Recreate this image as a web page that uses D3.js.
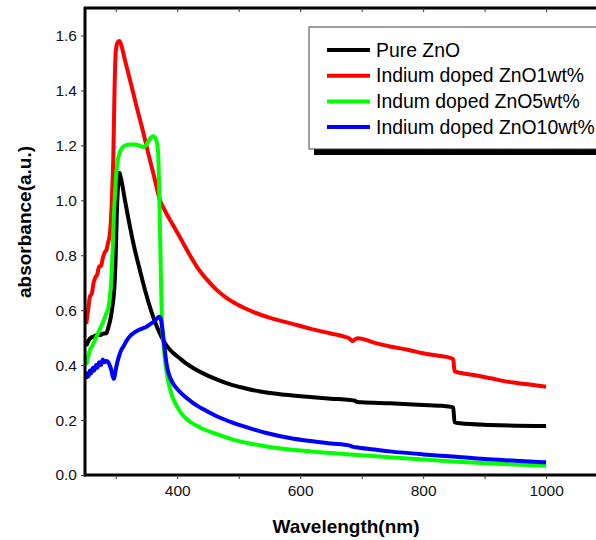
<!DOCTYPE html>
<html>
<head>
  <meta charset="utf-8">
  <title>Absorbance spectra</title>
  <style>
    body {
      margin: 0;
      background: #fff;
      font-family: Arial, "Liberation Sans", sans-serif;
    }
  </style>
  <script src="https://d3js.org/d3.v7.min.js"></script>
</head>
<body>
  <svg id="chart" width="596" height="540"></svg>

  <script>
    // [wavelength nm, absorbance]
    var pureZnO = [
      [252, 0.47], [256, 0.49], [260, 0.50], [265, 0.505], [270, 0.51], [275, 0.51],
      [280, 0.515], [285, 0.516], [287, 0.53], [289, 0.545], [292, 0.575], [295, 0.62],
      [298, 0.69], [300, 0.80], [302, 0.97], [304, 1.06], [306, 1.10], [308, 1.085],
      [315, 1.00], [323, 0.905], [331, 0.82], [339, 0.748], [348, 0.67], [358, 0.595],
      [366, 0.545], [374, 0.505], [383, 0.47], [393, 0.445], [404, 0.425], [415, 0.405],
      [428, 0.387], [442, 0.37], [462, 0.35], [486, 0.33], [510, 0.316], [535, 0.304],
      [575, 0.292], [616, 0.284], [650, 0.278], [681, 0.273], [688, 0.271], [693, 0.266],
      [700, 0.265], [746, 0.261], [800, 0.255], [830, 0.252], [846, 0.248], [849, 0.245],
      [851, 0.192], [860, 0.188], [909, 0.182], [1000, 0.178]
    ];

    var doped1 = [
      [252, 0.55], [255, 0.60], [258, 0.65], [261, 0.66], [264, 0.70], [267, 0.72],
      [270, 0.73], [273, 0.76], [276, 0.76], [279, 0.79], [282, 0.81], [285, 0.82],
      [288, 0.85], [290, 0.87], [292, 0.92], [294, 1.02], [296, 1.15], [298, 1.40],
      [300, 1.54], [303, 1.575], [306, 1.58], [309, 1.565], [315, 1.51], [323, 1.44],
      [334, 1.34], [345, 1.245], [353, 1.17], [362, 1.09], [372, 1.00], [380, 0.962],
      [390, 0.922], [404, 0.867], [418, 0.81], [432, 0.758], [448, 0.712], [465, 0.672],
      [480, 0.645], [497, 0.622], [520, 0.597], [551, 0.572], [583, 0.553], [616, 0.533],
      [650, 0.515], [673, 0.503], [680, 0.497], [685, 0.488], [690, 0.495], [694, 0.498],
      [720, 0.482], [746, 0.468], [775, 0.456], [800, 0.443], [825, 0.434], [846, 0.425],
      [849, 0.42], [851, 0.378], [860, 0.372], [882, 0.364], [910, 0.352], [936, 0.340],
      [970, 0.330], [1000, 0.321]
    ];

    var doped5 = [
      [252, 0.40], [255, 0.43], [258, 0.455], [262, 0.47], [266, 0.49], [270, 0.51],
      [275, 0.535], [280, 0.56], [285, 0.59], [288, 0.61], [291, 0.66], [293, 0.72],
      [295, 0.82], [297, 0.95], [299, 1.03], [301, 1.10], [303, 1.14], [306, 1.17],
      [310, 1.19], [316, 1.20], [323, 1.203], [330, 1.203], [338, 1.20], [343, 1.195],
      [347, 1.195], [352, 1.21], [357, 1.228], [361, 1.233], [364, 1.228], [367, 1.21],
      [369, 1.17], [371, 1.00], [373, 0.78], [375, 0.57], [378, 0.47], [380, 0.42],
      [383, 0.37], [386, 0.335], [390, 0.30], [394, 0.275], [400, 0.248], [410, 0.215],
      [422, 0.192], [437, 0.173], [460, 0.152], [491, 0.129], [520, 0.114], [545, 0.104],
      [583, 0.093], [616, 0.086], [650, 0.08], [692, 0.073], [750, 0.064], [800, 0.056],
      [855, 0.048], [920, 0.041], [1000, 0.034]
    ];

    var doped10 = [
      [252, 0.35], [254, 0.37], [256, 0.36], [258, 0.38], [260, 0.37], [263, 0.39],
      [265, 0.38], [268, 0.40], [270, 0.39], [273, 0.41], [276, 0.40], [279, 0.42],
      [282, 0.41], [285, 0.415], [288, 0.41], [291, 0.395], [293, 0.38], [295, 0.36],
      [297, 0.35], [299, 0.37], [301, 0.395], [305, 0.43], [309, 0.455], [313, 0.47],
      [318, 0.49], [323, 0.505], [328, 0.515], [335, 0.525], [342, 0.532], [350, 0.54],
      [357, 0.55], [364, 0.563], [368, 0.572], [371, 0.576], [373, 0.57], [375, 0.545],
      [377, 0.51], [380, 0.45], [383, 0.40], [386, 0.37], [390, 0.347], [394, 0.33],
      [400, 0.313], [410, 0.29], [426, 0.262], [442, 0.24], [465, 0.213], [491, 0.19],
      [520, 0.169], [545, 0.153], [583, 0.135], [616, 0.124], [650, 0.115], [681, 0.107],
      [685, 0.103], [690, 0.101], [720, 0.093], [746, 0.086], [800, 0.075], [849, 0.067],
      [900, 0.058], [950, 0.052], [1000, 0.046]
    ];

    var seriesNames = ["Pure ZnO", "Indium doped ZnO1wt%", "Indum doped ZnO5wt%", "Indium doped ZnO10wt%"];
    var seriesColors = ["#000000", "#ff0000", "#00ff00", "#0000ff"];
    var seriesData = [pureZnO, doped1, doped5, doped10];

    var xTicks = [300, 400, 500, 600, 700, 800, 900, 1000];
    var xTickLabels = [400, 600, 800, 1000];
    var yTicks = [0, 0.2, 0.4, 0.6, 0.8, 1.0, 1.2, 1.4, 1.6];

    var svg = d3.select("#chart");

    var x = d3.scaleLinear()
        .domain([250, 1100])
        .range([85, 607.6]);

    var y = d3.scaleLinear()
        .domain([0, 1.7])
        .range([475, 8]);

    var line = d3.line()
        .x(d => x(d[0]))
        .y(d => y(d[1]))
        .curve(d3.curveMonotoneX);

    // curves
    svg.append("g")
        .selectAll("path")
        .data(seriesData)
        .join("path")
        .attr("d", line)
        .attr("fill", "none")
        .attr("stroke", (d, i) => seriesColors[i])
        .attr("stroke-width", 4)
        .attr("stroke-linejoin", "round");

    // bottom axis
    var xAxis = svg.append("g")
        .attr("transform", "translate(0,475)")
        .call(d3.axisBottom(x)
            .tickValues(xTicks)
            .tickSize(4)
            .tickFormat(d => xTickLabels.indexOf(d) >= 0 ? d : ""));
    xAxis.select(".domain").attr("stroke-width", 3).attr("d", "M84,0H596");
    xAxis.selectAll(".tick line").attr("stroke", "#333").attr("stroke-width", 1);
    xAxis.selectAll(".tick text")
        .attr("y", 10)
        .attr("font-family", "Arial, 'Liberation Sans', sans-serif")
        .attr("font-size", 15.5)
        .attr("fill", "#111");

    // top axis
    var topAxis = svg.append("g")
        .attr("transform", "translate(0,8)")
        .call(d3.axisBottom(x).tickValues(xTicks).tickSize(4).tickFormat(""));
    topAxis.select(".domain").attr("stroke-width", 3).attr("d", "M84,0H596");
    topAxis.selectAll(".tick line").attr("stroke", "#333").attr("stroke-width", 1);

    // left axis
    var yAxis = svg.append("g")
        .attr("transform", "translate(85,0)")
        .call(d3.axisLeft(y)
            .tickValues(yTicks)
            .tickSize(4)
            .tickFormat(d3.format(".1f")));
    yAxis.select(".domain").attr("stroke-width", 3).attr("d", "M0,7H0V476.5");
    yAxis.selectAll(".tick line").attr("stroke", "#333").attr("stroke-width", 1);
    yAxis.selectAll(".tick text")
        .attr("x", -8)
        .attr("font-family", "Arial, 'Liberation Sans', sans-serif")
        .attr("font-size", 15.5)
        .attr("fill", "#111");

    // axis titles
    svg.append("text")
        .attr("x", 346)
        .attr("y", 533)
        .attr("text-anchor", "middle")
        .attr("font-size", 19)
        .attr("font-weight", "bold")
        .text("Wavelength(nm)");

    svg.append("text")
        .attr("transform", "translate(31,222) rotate(-90)")
        .attr("text-anchor", "middle")
        .attr("font-size", 19)
        .attr("font-weight", "bold")
        .text("absorbance(a.u.)");

    // legend
    var legend = svg.append("g");
    legend.append("rect")
        .attr("x", 314).attr("y", 33)
        .attr("width", 300).attr("height", 122)
        .attr("fill", "#000");
    legend.append("rect")
        .attr("x", 309).attr("y", 27)
        .attr("width", 300).attr("height", 122)
        .attr("fill", "#fff")
        .attr("stroke", "#444")
        .attr("stroke-width", 1);

    var rows = legend.selectAll("g.row")
        .data(seriesNames)
        .join("g")
        .attr("class", "row")
        .attr("transform", (d, i) => "translate(0," + (50 + i * 25.7) + ")");
    rows.append("line")
        .attr("x1", 327).attr("x2", 370)
        .attr("stroke", (d, i) => seriesColors[i])
        .attr("stroke-width", 4);
    rows.append("text")
        .attr("x", 376)
        .attr("dy", "0.35em")
        .attr("font-size", 19.4)
        .text(d => d);
  </script>
</body>
</html>
